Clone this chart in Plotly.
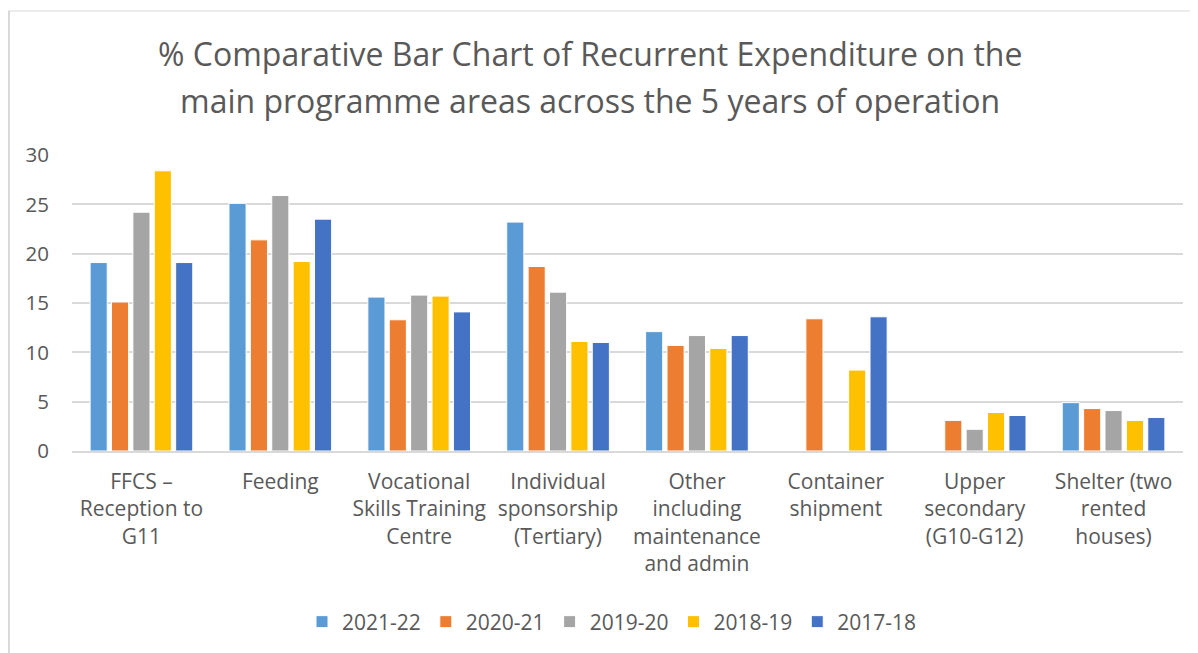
import plotly.graph_objects as go

categories = [
    "FFCS –<br>Reception to<br>G11",
    "Feeding",
    "Vocational<br>Skills Training<br>Centre",
    "Individual<br>sponsorship<br>(Tertiary)",
    "Other<br>including<br>maintenance<br>and admin",
    "Container<br>shipment",
    "Upper<br>secondary<br>(G10-G12)",
    "Shelter (two<br>rented<br>houses)",
]
series_names = ["2021-22", "2020-21", "2019-20", "2018-19", "2017-18"]
v_2021_22 = [19.1, 25.1, 15.6, 23.2, 12.1, None, None, 4.9]
v_2020_21 = [15.1, 21.4, 13.3, 18.7, 10.7, 13.4, 3.1, 4.3]
v_2019_20 = [24.2, 25.9, 15.8, 16.1, 11.7, None, 2.2, 4.1]
v_2018_19 = [28.4, 19.2, 15.7, 11.1, 10.4, 8.2, 3.9, 3.1]
v_2017_18 = [19.1, 23.5, 14.1, 11.0, 11.7, 13.6, 3.6, 3.4]
series_values = [v_2021_22, v_2020_21, v_2019_20, v_2018_19, v_2017_18]
colors = ["#5B9BD5", "#ED7D31", "#A5A5A5", "#FFC000", "#4472C4"]
title_lines = [
    "% Comparative Bar Chart of Recurrent Expenditure on the",
    "main programme areas across the 5 years of operation",
]

FONT = "Open Sans, DejaVu Sans, sans-serif"
TXT = "#595959"

# page body has an 8px margin; work in reference pixel coords minus 8
OFF = 8
W, H = 1198 - OFF, 653 - OFF
ML, MT = 72 - OFF, 155 - OFF
PR, PB = 1183 - OFF, 451 - OFF
MR, MB = W - PR, H - PB
PW, PH = PR - ML, PB - MT


def px_x(x):
    return (x - OFF - ML) / PW


def px_y(y):
    return (PB - (y - OFF)) / PH


fig = go.Figure()
for name, vals, col in zip(series_names, series_values, colors):
    fig.add_trace(go.Bar(
        name=name, x=categories, y=vals,
        marker=dict(color=col, line=dict(color="white", width=1)),
    ))

fig.update_layout(
    width=W, height=H,
    margin=dict(l=ML, r=MR, t=MT, b=MB, autoexpand=False),
    paper_bgcolor="white", plot_bgcolor="white",
    barmode="group", bargap=0.23, bargroupgap=0.2,
    font=dict(family=FONT, color=TXT),
    showlegend=True,
    legend=dict(
        orientation="h", x=px_x(612), xanchor="center", y=px_y(622), yanchor="middle",
        font=dict(size=21, color=TXT), traceorder="normal",
        itemwidth=30,
    ),
    xaxis=dict(
        tickfont=dict(size=21, color=TXT), showgrid=False,
        showline=True, linecolor="#D9D9D9", linewidth=1.5, ticks="",
        ticklabelstandoff=11,
    ),
    yaxis=dict(
        range=[0, 30], dtick=5, tickfont=dict(size=20.5, color=TXT),
        showgrid=True, gridcolor="#D9D9D9", gridwidth=1.5,
        zeroline=False, showline=False, ticks="", ticklabelstandoff=22,
    ),
)

for line, yy in zip(title_lines, [53, 100]):
    fig.add_annotation(text=line, xref="paper", yref="paper",
                       x=px_x(590), y=px_y(yy), xanchor="center", yanchor="middle",
                       showarrow=False, font=dict(size=32, color=TXT, family=FONT))

fig.add_shape(type="line", xref="paper", yref="paper",
              x0=px_x(8), x1=px_x(1210), y0=px_y(11), y1=px_y(11),
              line=dict(color="#D9D9D9", width=1))
fig.add_shape(type="line", xref="paper", yref="paper",
              x0=px_x(9), x1=px_x(9), y0=px_y(11), y1=px_y(665),
              line=dict(color="#D9D9D9", width=2))

fig.write_html("out.html")
